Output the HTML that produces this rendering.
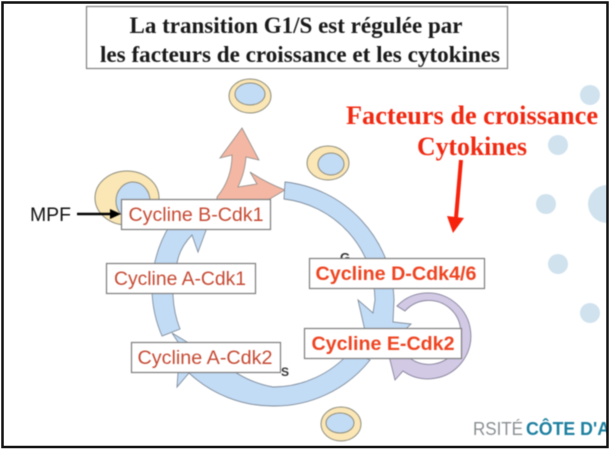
<!DOCTYPE html>
<html lang="fr"><head><meta charset="utf-8"><title>Transition G1/S</title>
<style>html,body{margin:0;padding:0;background:#fff}svg{display:block}.b{filter:blur(.4px)}</style></head>
<body>
<svg width="614" height="455" viewBox="0 0 614 455" xmlns="http://www.w3.org/2000/svg">
<defs><clipPath id="c"><rect x="3" y="3" width="604" height="443"/></clipPath></defs>
<rect width="614" height="455" fill="#fff"/>
<g clip-path="url(#c)"><g class="b">
  <g fill="#d0e2ee">
    <circle cx="590" cy="95" r="10"/><circle cx="558" cy="145" r="10"/><circle cx="546" cy="204" r="10"/>
    <circle cx="607" cy="204" r="19"/><circle cx="558" cy="264" r="10"/><circle cx="590" cy="313" r="10"/>
  </g>
  <!-- cells -->
  <g stroke="#8d8c7c" stroke-width="1">
    <ellipse cx="127" cy="198" rx="32" ry="27" fill="#fbe6b5"/>
    <ellipse cx="133" cy="201" rx="17" ry="19" fill="#c3dcf6"/>
    <ellipse cx="250" cy="96" rx="21" ry="17" fill="#fbe6b5"/>
    <ellipse cx="250" cy="94" rx="15" ry="11" fill="#c3dcf6"/>
    <ellipse cx="328" cy="163" rx="21" ry="17" fill="#fbe6b5"/>
    <ellipse cx="331" cy="164" rx="13" ry="11" fill="#c3dcf6"/>
    <ellipse cx="341" cy="424" rx="20" ry="17" fill="#fbe6b5"/>
    <ellipse cx="340" cy="423" rx="14" ry="10" fill="#c3dcf6"/>
  </g>
  <!-- salmon arrow -->
  <path d="M242 128 L259 160 L246 157 C245 170 242 178 238 187 L257 184 L250 172 C262 180 272 185 285 190 L268 200 L217 200 L217 197 C226 186 232 172 232 155 L220 158 Z" fill="#f4b7a3" stroke="#8f8a86" stroke-width=".8"/>
  <!-- blue arcs -->
  <g fill="#c3dcf6" stroke="#7f8c9c" stroke-width=".9">
    <path d="M285 182 A122 122 0 0 1 394 300 L393 322 L411 324 L382 352 L366 335 L358 300 L373 313 L375 300 A103 103 0 0 0 284 199 Z"/>
    <path d="M370 360 A122 122 0 0 1 273 406 A122 122 0 0 1 189 373 L177 387 L180 345 L172 333 L187 342 L220 360 A103 103 0 0 0 273 387 A103 103 0 0 0 350 352 Z"/>
    <path d="M162 336 A122 122 0 0 1 152 290 A122 122 0 0 1 170 225 L208 225 L198 252 L192 235 C184 243 179 252 177 263 A103 103 0 0 0 180 329 Z"/>
  </g>
  <!-- purple arc -->
  <path d="M397 306 A43 43 0 1 1 403 371 L395 380 L388 352 L410 352 L411 359 A32 32 0 1 0 405 311 Z" fill="#d2c9e4" stroke="#86819b" stroke-width=".9"/>
  <!-- phase letters -->
  <text x="340" y="262" font-family="'Liberation Sans',sans-serif" font-size="13" font-weight="bold" fill="#333">G</text>
  <!-- cycline boxes -->
  <g fill="#fff" stroke="#7d7d7d" stroke-width="1.2">
    <rect x="121.500" y="199.500" width="149" height="30"/>
    <rect x="106.500" y="263.500" width="149" height="30"/>
    <rect x="131.500" y="342.500" width="149" height="30"/>
    <rect x="309.500" y="258.500" width="175" height="30"/>
    <rect x="304.500" y="328.500" width="157" height="30"/>
  </g>
  <text x="281" y="376" font-family="'Liberation Sans',sans-serif" font-size="12" font-weight="bold" fill="#333">S</text>
  <g font-family="'Liberation Sans',sans-serif" font-size="19" fill="#c64a33" text-anchor="middle">
    <text x="196" y="221" textLength="135" lengthAdjust="spacingAndGlyphs">Cycline B-Cdk1</text>
    <text x="180" y="285" textLength="132" lengthAdjust="spacingAndGlyphs">Cycline A-Cdk1</text>
    <text x="205" y="364" textLength="135" lengthAdjust="spacingAndGlyphs">Cycline A-Cdk2</text>
  </g>
  <g font-family="'Liberation Sans',sans-serif" font-size="19.500" font-weight="bold" fill="#ee4522" text-anchor="middle">
    <text x="396" y="280" textLength="161" lengthAdjust="spacingAndGlyphs">Cycline D-Cdk4/6</text>
    <text x="383" y="350" textLength="143" lengthAdjust="spacingAndGlyphs">Cycline E-Cdk2</text>
  </g>
  <!-- MPF -->
  <text x="30" y="221" font-family="'Liberation Sans',sans-serif" font-size="19" fill="#111" textLength="41" lengthAdjust="spacingAndGlyphs">MPF</text>
  <line x1="77" y1="214" x2="112" y2="214" stroke="#000" stroke-width="2.500"/>
  <path d="M121 214 L110 209 L110 219 Z" fill="#000"/>
  <!-- title box -->
  <rect x="86.500" y="6.500" width="421" height="62" fill="#fff" stroke="#808080" stroke-width="1.200"/>
  <g font-family="'Liberation Serif',serif" font-weight="bold" font-size="23" fill="#1a1a1a" text-anchor="middle">
    <text x="296" y="33" textLength="333" lengthAdjust="spacingAndGlyphs">La transition G1/S est régulée par</text>
    <text x="300" y="62" textLength="400" lengthAdjust="spacingAndGlyphs">les facteurs de croissance et les cytokines</text>
  </g>
  <!-- red text -->
  <g font-family="'Liberation Serif',serif" font-weight="bold" font-size="26" fill="#f02a12" text-anchor="middle">
    <text x="472" y="124" textLength="252" lengthAdjust="spacingAndGlyphs">Facteurs de croissance</text>
    <text x="472" y="155" textLength="110" lengthAdjust="spacingAndGlyphs">Cytokines</text>
  </g>
  <line x1="461" y1="160" x2="456" y2="218" stroke="#f7220c" stroke-width="4"/>
  <path d="M447 216 L464 218 L453 233 Z" fill="#f7220c"/>
  <!-- logo -->
  <text x="473" y="435" font-family="'Liberation Sans',sans-serif" font-size="18" fill="#8a8f92" textLength="50" lengthAdjust="spacingAndGlyphs">RSITÉ</text>
  <text x="526" y="435" font-family="'Liberation Sans',sans-serif" font-size="18" font-weight="bold" fill="#1c7f9f" textLength="84" lengthAdjust="spacingAndGlyphs">CÔTE D'A</text>
</g></g>
<rect x="2.500" y="2.500" width="605" height="444.500" fill="none" stroke="#111" stroke-width="2.500"/>
</svg>
</body></html>
